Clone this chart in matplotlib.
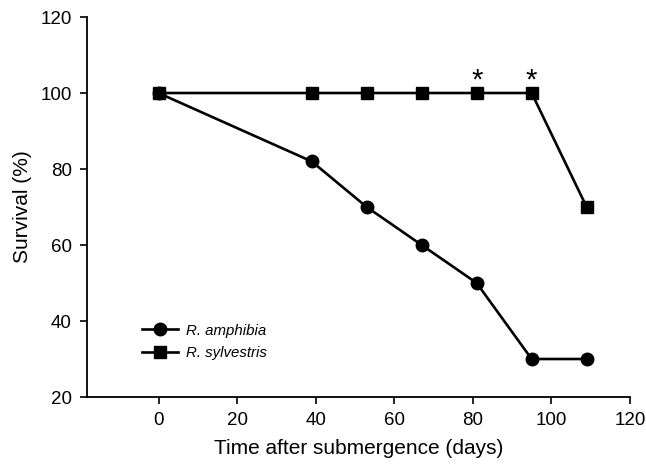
import matplotlib
matplotlib.use('Agg')
import matplotlib.pyplot as plt

plt.rcParams['font.family'] = ['Liberation Sans', 'DejaVu Sans']

days = [0, 39, 53, 67, 81, 95, 109]
amphibia = [100, 82, 70, 60, 50, 30, 30]
sylvestris = [100, 100, 100, 100, 100, 100, 70]
star_days = [81, 95]
star_y = [103.2, 103.2]

fig = plt.figure(figsize=(6.46, 4.70), dpi=100)
ax = fig.add_axes([0.1347, 0.1553, 0.975 - 0.1347, 0.9638 - 0.1553])

ax.plot(days, amphibia, color='black', lw=1.9, marker='o', ms=9, label='R. amphibia')
ax.plot(days, sylvestris, color='black', lw=1.9, marker='s', ms=8.5, label='R. sylvestris')
for x, y in zip(star_days, star_y):
    ax.text(x, y, '*', ha='center', va='center', fontsize=21)

ax.set_xlim(-18.2, 120)
ax.set_ylim(20, 120)
ax.set_xticks([0, 20, 40, 60, 80, 100, 120])
ax.set_yticks([20, 40, 60, 80, 100, 120])
ax.spines['top'].set_visible(False)
ax.spines['right'].set_visible(False)
ax.tick_params(direction='out', length=5, width=1.2, labelsize=13.5, pad=6)
ax.spines['left'].set_linewidth(1.3)
ax.spines['bottom'].set_linewidth(1.3)
ax.set_xlabel('Time after submergence (days)', fontsize=15, labelpad=7)
ax.set_ylabel('Survival (%)', fontsize=15, labelpad=6)

leg = ax.legend(loc='lower left', bbox_to_anchor=(0.077, 0.062), frameon=False,
                prop={'style': 'italic', 'size': 10.8}, handlelength=2.4,
                handletextpad=0.5, labelspacing=0.55)

fig.savefig('out.png', dpi=100)
